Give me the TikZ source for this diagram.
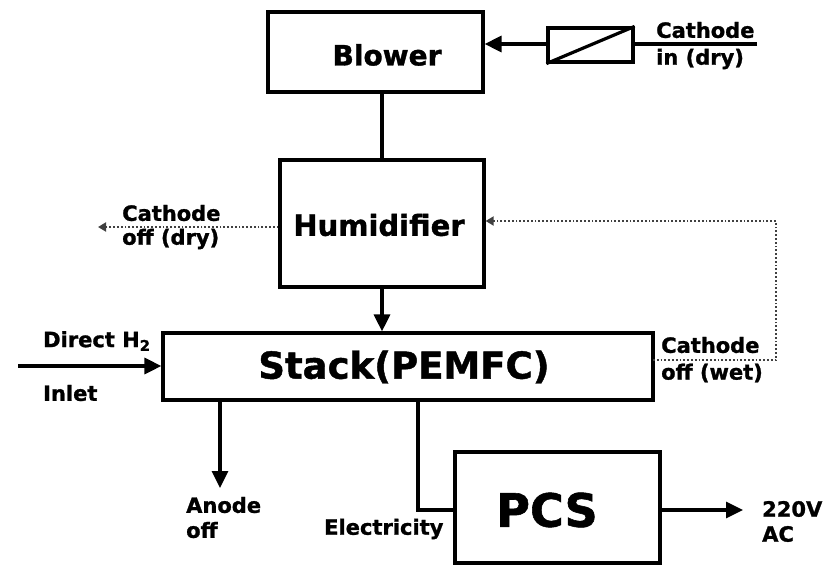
\documentclass[tikz,border=0pt]{standalone}
\usepackage{fontspec}
\setmainfont{DejaVu Sans}
\newfontfamily\hv{DejaVu Sans Bold}[FakeBold=1.2]
\usetikzlibrary{arrows.meta}
\begin{document}
\begin{tikzpicture}[x=1pt,y=-1pt,
  blk/.style={draw,line width=3.2pt,rectangle,inner sep=0pt,fill=white},
  flow/.style={line width=3.2pt},
  arr/.style={line width=3.2pt,-{Triangle[length=17pt,width=16pt]}},
  wet/.style={draw=gray!50!black,line width=1.8pt,dotted},
  wetarr/.style={wet,-{Triangle[length=8pt,width=9pt,fill=gray!50!black]}},
  lbl/.style={font=\fontsize{21}{23}\selectfont\hv,inner sep=0pt,anchor=west},
  big/.style={font=\fontsize{28}{30}\selectfont\hv,inner sep=0pt}]
\useasboundingbox (0,0) rectangle (833,565);
% blocks
\node[blk,minimum width=215pt,minimum height=80pt] (blower) at (375.5,52) {};
\node[big] (blowert) at (387,55) {Blower};
\node[blk,minimum width=85pt,minimum height=34pt] (filter) at (590.5,45) {};
\draw[line width=3.2pt] (filter.south west) -- (filter.north east);
\node[blk,minimum width=204pt,minimum height=127pt] (humid) at (382,223.5) {};
\node[big,font=\fontsize{29}{31}\selectfont\hv] (humidt) at (379,225) {Humidifier};
\node[blk,minimum width=490pt,minimum height=67pt] (stack) at (408,366.5) {};
\node[big,font=\fontsize{37}{40}\selectfont\hv] (stackt) at (404,367) {Stack(PEMFC)};
\node[blk,minimum width=205pt,minimum height=111pt] (pcs) at (557.5,507.5) {};
\node[big,font=\fontsize{46}{48}\selectfont\hv] (pcst) at (547,510) {PCS};
% coordinates
\coordinate (cin) at (757,44);
\coordinate (dryend) at (98,227);
\coordinate (wetA) at (653,360);
\coordinate (wetB) at (776,360);
\coordinate (wetC) at (776,221);
\coordinate (h2in) at (18,366);
\coordinate (anodetop) at (220,400);
\coordinate (anodeend) at (220,488);
\coordinate (eltop) at (418,400);
\coordinate (elbend) at (418,510);
\coordinate (acend) at (743,510);
% connectors
\draw[flow] (cin) -- (filter.east |- cin);
\draw[arr] (filter.west |- cin) -- (blower.east |- cin);
\draw[flow] (humid.north |- blower.south) -- (humid.north);
\draw[arr] (humid.south) -- (humid.south |- stack.north);
\draw[wetarr] (humid.west |- dryend) -- (dryend);
\draw[wetarr] (wetA) -- (wetB) -- (wetC) -- (humid.east |- wetC);
\draw[arr] (h2in) -- (stack.west |- h2in);
\draw[arr] (anodetop) -- (anodeend);
\draw[flow] (eltop) -- (elbend) -- (pcs.west |- elbend);
\draw[arr] (pcs.east |- acend) -- (acend);
% labels
\node[lbl] (l1) at (656,30) {Cathode};
\node[lbl] (l2) at (656,59) {in (dry)};
\node[lbl] (l3) at (122,213) {Cathode};
\node[lbl] (l4) at (122,239) {off (dry)};
\node[lbl] (l5) at (661,345) {Cathode};
\node[lbl] (l6) at (661,373) {off (wet)};
\node[lbl] (l7) at (43,341) {Direct H\textsubscript{2}};
\node[lbl] (l8) at (43,393) {Inlet};
\node[lbl] (l9) at (186,505) {Anode};
\node[lbl] (l10) at (186,530) {off};
\node[lbl] (l11) at (324,529) {Electricity};
\node[lbl] (l12) at (762,509) {220V};
\node[lbl] (l13) at (762,534) {AC};
\end{tikzpicture}
\end{document}
